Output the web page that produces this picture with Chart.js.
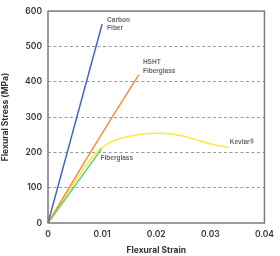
<!DOCTYPE html>
<html>
<head>
<meta charset="utf-8">
<script src="https://cdn.jsdelivr.net/npm/chart.js@4.4.1/dist/chart.umd.min.js"></script>
<style>
  html, body { margin: 0; padding: 0; background: #fff; }
  #wrap { width: 280px; height: 256px; }
</style>
</head>
<body>
<div id="wrap"><canvas id="stressChart" width="280" height="256"></canvas></div>
<script>
// strain (x) / stress in MPa (y)
const carbonStrain = [0, 0.0100];
const carbonStress = [0, 563];

const hshtStrain = [0, 0.0066, 0.0119, 0.0168];
const hshtStress = [0, 169, 301, 420];

const glassStrain = [0, 0.0099];
const glassStress = [0, 210];

const kevlarStrain = [0, 0.0045, 0.0085, 0.0110, 0.0140, 0.0175, 0.0210, 0.0245, 0.0275, 0.0305, 0.0334];
const kevlarStress = [0, 106, 192, 224, 242, 252, 254, 248, 235, 222, 214];

const seriesNames = ['Carbon\nFiber', 'HSHT\nFiberglass', 'Fiberglass', 'Kevlar®'];
const xTicks = [0, 0.01, 0.02, 0.03, 0.04];

const toPoints = (xs, ys) => xs.map((x, i) => ({ x: x, y: ys[i] }));

// pixel offset of each end label from the line's last point
const labelOffsets = [[5, -4], [4, -12], [-1, 9], [1, -5]];

const endLabels = {
    id: 'endLabels',
    afterDatasetsDraw(chart) {
        const ctx = chart.ctx;
        ctx.save();
        ctx.font = 'bold 6.5px "Liberation Sans", Arial, sans-serif';
        ctx.fillStyle = '#6a6a6a';
        ctx.textBaseline = 'middle';
        chart.data.datasets.forEach((ds, i) => {
            const last = ds.data[ds.data.length - 1];
            const px = chart.scales.x.getPixelForValue(last.x) + labelOffsets[i][0];
            const py = chart.scales.y.getPixelForValue(last.y) + labelOffsets[i][1];
            seriesNames[i].split('\n').forEach((line, j) => {
                ctx.fillText(line, px, py + j * 8.5);
            });
        });
        ctx.restore();
    }
};

const plotBox = {
    id: 'plotBox',
    afterDraw(chart) {
        const a = chart.chartArea;
        const ctx = chart.ctx;
        ctx.save();
        ctx.strokeStyle = '#7a7a7a';
        ctx.lineWidth = 1.5;
        ctx.strokeRect(a.left, a.top, a.right - a.left, a.bottom - a.top);
        ctx.restore();
    }
};

const lineStyle = { fill: false, borderWidth: 1.5, pointRadius: 0, tension: 0, showLine: true };

new Chart(document.getElementById('stressChart').getContext('2d'), {
    type: 'scatter',
    data: {
        datasets: [
            Object.assign({ data: toPoints(carbonStrain, carbonStress), borderColor: '#4063c2' }, lineStyle),
            Object.assign({ data: toPoints(hshtStrain, hshtStress), borderColor: '#f7913a' }, lineStyle),
            Object.assign({ data: toPoints(glassStrain, glassStress), borderColor: '#5ccf72' }, lineStyle),
            Object.assign({}, lineStyle, { data: toPoints(kevlarStrain, kevlarStress), borderColor: '#f8ea45', tension: 0.4 })
        ]
    },
    options: {
        responsive: false,
        animation: false,
        layout: { padding: { top: 10, right: 14, left: 0, bottom: 0 } },
        plugins: { legend: { display: false }, tooltip: { enabled: false } },
        scales: {
            x: {
                type: 'linear',
                min: 0,
                max: 0.04,
                afterBuildTicks: s => { s.ticks = xTicks.map(v => ({ value: v })); },
                afterFit: s => { s.height = 33; },
                grid: { display: false, drawTicks: false },
                border: { display: false },
                ticks: {
                    padding: 6,
                    color: '#333',
                    font: { family: 'Inter', size: 8.5, weight: '600' },
                    callback: v => v === 0 ? '0' : v.toFixed(2)
                },
                title: {
                    display: true,
                    text: 'Flexural Strain',
                    color: '#333',
                    padding: { top: 2, bottom: 0 },
                    font: { family: 'Inter', size: 8.5, weight: 'bold' }
                }
            },
            y: {
                min: 0,
                max: 600,
                afterFit: s => { s.width = 48; },
                grid: {
                    drawTicks: false,
                    color: c => (c.tick.value === 0 || c.tick.value === 600) ? 'rgba(0,0,0,0)' : '#9a9a9a',
                    lineWidth: 1
                },
                border: { display: false, dash: [3, 2.5] },
                ticks: {
                    stepSize: 100,
                    padding: 6,
                    color: '#333',
                    font: { family: 'Inter', size: 8.5, weight: '600' }
                },
                title: {
                    display: true,
                    text: 'Flexural Stress (MPa)',
                    color: '#333',
                    padding: { top: 0, bottom: 2 },
                    font: { family: 'Inter', size: 8.5, weight: 'bold' }
                }
            }
        }
    },
    plugins: [endLabels, plotBox]
});
</script>
</body>
</html>
